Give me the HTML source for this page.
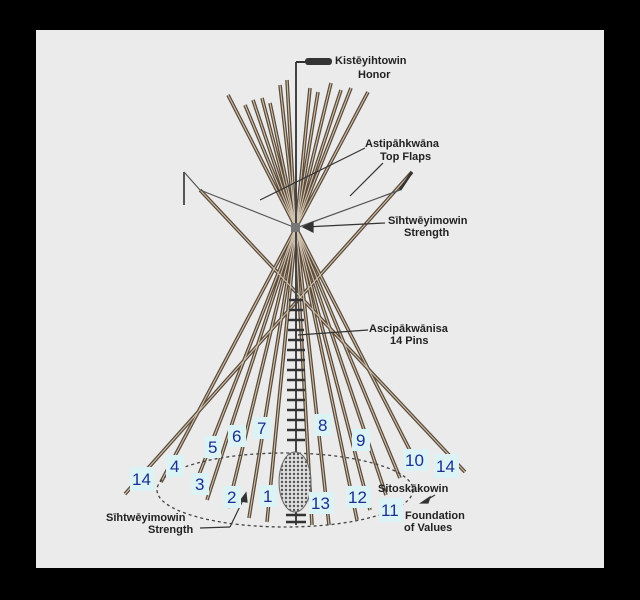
<!DOCTYPE html>
<html><head><meta charset="utf-8"><style>
html,body{margin:0;padding:0;background:#000;width:640px;height:600px;overflow:hidden}
svg{display:block}
.t{font-family:"Liberation Sans",sans-serif;font-weight:bold;font-size:11px;fill:#222}
.n{font-family:"Liberation Sans",sans-serif;font-size:17px;fill:#1a2f8f}
</style></head><body>
<svg width="640" height="600" viewBox="0 0 640 600">
<rect x="0" y="0" width="640" height="600" fill="#000"/>
<rect x="36" y="30" width="568" height="538" fill="#ebebeb"/>
<defs>
<pattern id="h" width="4" height="4" patternUnits="userSpaceOnUse"><rect width="4" height="4" fill="#ddd"/><circle cx="2" cy="2" r="1.2" fill="#555"/></pattern>
<g id="poles">
<line x1="228" y1="95" x2="420" y2="470"/>
<line x1="245" y1="105" x2="400" y2="478"/>
<line x1="253" y1="100" x2="386" y2="495"/>
<line x1="262" y1="98" x2="370" y2="510"/>
<line x1="270" y1="103" x2="357" y2="520"/>
<line x1="280" y1="85" x2="329" y2="525"/>
<line x1="287" y1="80" x2="312" y2="525"/>
<line x1="310" y1="88" x2="267" y2="522"/>
<line x1="318" y1="92" x2="249" y2="518"/>
<line x1="331" y1="83" x2="228" y2="508"/>
<line x1="341" y1="90" x2="207" y2="500"/>
<line x1="351" y1="88" x2="193" y2="490"/>
<line x1="368" y1="92" x2="161" y2="482"/>
<line x1="200" y1="190" x2="465" y2="472"/>
<line x1="412" y1="172" x2="125" y2="494"/>
</g>
</defs>
<use href="#poles" stroke="#5a4a3a" stroke-width="3.6" fill="none"/>
<use href="#poles" stroke="#cfc2ae" stroke-width="1.1" fill="none"/>
<g stroke="#555" stroke-width="1.2" fill="none">
<line x1="200" y1="190" x2="296" y2="228"/>
<line x1="400" y1="190" x2="296" y2="228"/>
<line x1="184" y1="172" x2="200" y2="190"/>
<line x1="184" y1="172" x2="184" y2="205" stroke-width="2"/>
<line x1="412" y1="172" x2="400" y2="190" stroke-width="2.5" stroke="#333"/>
</g>
<line x1="296" y1="62" x2="296" y2="525" stroke="#444" stroke-width="2"/>
<line x1="296" y1="62" x2="305" y2="62" stroke="#333" stroke-width="2"/>
<rect x="305" y="58" width="27" height="7" rx="3" fill="#333"/>
<rect x="291" y="223" width="9" height="9" fill="#777"/>
<g stroke="#333" stroke-width="2.5">
<line x1="289" y1="300" x2="303" y2="300"/><line x1="289" y1="310" x2="303" y2="310"/>
<line x1="288" y1="320" x2="304" y2="320"/><line x1="288" y1="330" x2="304" y2="330"/>
<line x1="288" y1="340" x2="304" y2="340"/><line x1="287" y1="350" x2="305" y2="350"/>
<line x1="287" y1="360" x2="305" y2="360"/><line x1="287" y1="370" x2="305" y2="370"/>
<line x1="287" y1="380" x2="305" y2="380"/><line x1="287" y1="390" x2="305" y2="390"/>
<line x1="287" y1="400" x2="305" y2="400"/><line x1="287" y1="410" x2="305" y2="410"/>
<line x1="287" y1="420" x2="305" y2="420"/><line x1="287" y1="430" x2="305" y2="430"/>
<line x1="287" y1="440" x2="305" y2="440"/><line x1="286" y1="515" x2="306" y2="515"/>
<line x1="286" y1="522" x2="306" y2="522"/>
</g>
<ellipse cx="285" cy="490" rx="128" ry="37" fill="none" stroke="#444" stroke-width="1.3" stroke-dasharray="3 3"/>
<ellipse cx="295" cy="482" rx="16" ry="30" fill="url(#h)" stroke="#666"/>
<g stroke="#333" stroke-width="1.2" fill="#333">
<line x1="260" y1="200" x2="365" y2="148"/>
<line x1="350" y1="196" x2="383" y2="163"/>
<line x1="305" y1="227" x2="385" y2="223"/><polygon points="303,227 313,222 313,232"/>
<line x1="298" y1="335" x2="368" y2="330"/>
<line x1="200" y1="528" x2="230" y2="527"/><line x1="230" y1="527" x2="244" y2="498"/><polygon points="246,493 240,501 247,502"/>
<line x1="435" y1="495" x2="425" y2="501"/><polygon points="421,503 430,497 428,503"/>
</g>
<text class="t" x="335" y="64">Kistēyihtowin</text>
<text class="t" x="358" y="78">Honor</text>
<text class="t" x="365" y="147">Astipāhkwāna</text>
<text class="t" x="380" y="160">Top Flaps</text>
<text class="t" x="388" y="224">Sīhtwēyimowin</text>
<text class="t" x="404" y="236">Strength</text>
<text class="t" x="369" y="332">Ascipākwānisa</text>
<text class="t" x="390" y="344">14 Pins</text>
<text class="t" x="378" y="492">Sitoskākowin</text>
<text class="t" x="405" y="519">Foundation</text>
<text class="t" x="404" y="531">of Values</text>
<text class="t" x="106" y="521">Sīhtwēyimowin</text>
<text class="t" x="148" y="533">Strength</text>
<g>
<rect x="130" y="467" width="24" height="24" fill="#dcf3f6"/><text class="n" x="132" y="485">14</text>
<rect x="166" y="455" width="18" height="22" fill="#dcf3f6"/><text class="n" x="170" y="472">4</text>
<rect x="191" y="473" width="18" height="22" fill="#dcf3f6"/><text class="n" x="195" y="490">3</text>
<rect x="204" y="436" width="17" height="22" fill="#dcf3f6"/><text class="n" x="208" y="453">5</text>
<rect x="228" y="425" width="18" height="22" fill="#dcf3f6"/><text class="n" x="232" y="442">6</text>
<rect x="253" y="417" width="18" height="22" fill="#dcf3f6"/><text class="n" x="257" y="434">7</text>
<rect x="223" y="486" width="18" height="22" fill="#dcf3f6"/><text class="n" x="227" y="503">2</text>
<rect x="259" y="485" width="18" height="22" fill="#dcf3f6"/><text class="n" x="263" y="502">1</text>
<rect x="314" y="414" width="18" height="22" fill="#dcf3f6"/><text class="n" x="318" y="431">8</text>
<rect x="352" y="429" width="18" height="22" fill="#dcf3f6"/><text class="n" x="356" y="446">9</text>
<rect x="309" y="492" width="25" height="22" fill="#dcf3f6"/><text class="n" x="311" y="509">13</text>
<rect x="346" y="486" width="25" height="22" fill="#dcf3f6"/><text class="n" x="348" y="503">12</text>
<rect x="403" y="449" width="26" height="22" fill="#dcf3f6"/><text class="n" x="405" y="466">10</text>
<rect x="434" y="454" width="25" height="24" fill="#dcf3f6"/><text class="n" x="436" y="472">14</text>
<rect x="379" y="498" width="24" height="24" fill="#dcf3f6"/><text class="n" x="381" y="516">11</text>
</g>
</svg>
</body></html>
